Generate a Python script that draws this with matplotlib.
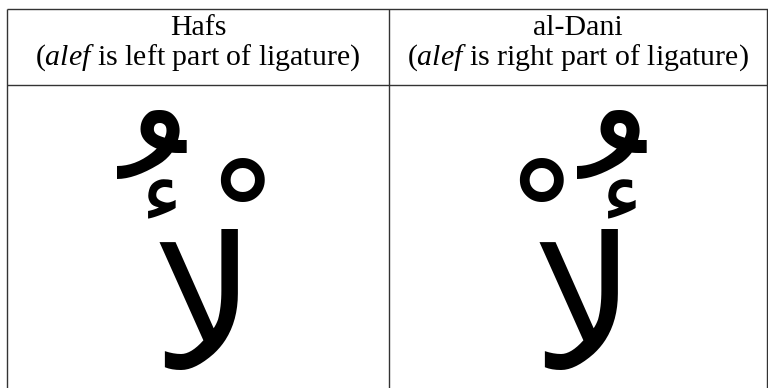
import matplotlib
matplotlib.use("Agg")
import matplotlib.pyplot as plt

# table content
col_titles = ["Hafs", "al-Dani"]
col_notes = ["left", "right"]
ligature = "\uFEFB"      # lam-alef ligature
damma = "\uFE78"
hamza = "\uFE80"
sukun = "\uFE7E"
# Hafs: hamza on the left, sukun on the right; al-Dani: swapped
mark_side = ["left", "right"]

plt.rcParams['mathtext.fontset'] = 'custom'
plt.rcParams['mathtext.rm'] = 'Liberation Serif'
plt.rcParams['mathtext.it'] = 'Liberation Serif:italic'

fig = plt.figure(figsize=(7.68, 3.88), dpi=100)
ax = fig.add_axes([0, 0, 1, 1])
ax.set_xlim(0, 768)
ax.set_ylim(388, 0)
ax.axis('off')

line_kw = dict(color='#333333', lw=1.0, solid_capstyle='butt')
x_left, x_mid, x_right = 7, 389, 767
y_top, y_head = 9, 85
ax.plot([x_left, 768], [y_top, y_top], **line_kw)
ax.plot([x_left, 768], [y_head, y_head], **line_kw)
for x in (x_left, x_mid, x_right):
    ax.plot([x, x], [y_top, 388], **line_kw)

centers = [(x_left + x_mid) / 2, (x_mid + x_right) / 2]
serif = ['Liberation Serif', 'DejaVu Serif']
arab = ['DejaVu Sans']

for i, cx in enumerate(centers):
    ax.text(cx, 35, col_titles[i], ha='center', va='baseline',
            fontsize=21.5, family=serif)
    ax.text(cx, 65, r"($\mathit{alef}$ is " + col_notes[i] + " part of ligature)",
            ha='center', va='baseline', fontsize=21.5, family=serif)

    # ligature
    ax.text(cx + 6, 368, ligature, ha='center', va='baseline',
            fontsize=132, family=arab)
    if mark_side[i] == 'left':
        hx, dx, sx = cx - 36, cx - 46, cx + 44
    else:
        hx, dx, sx = cx + 44, cx + 34, cx - 37
    ax.text(dx, 374, damma, ha='center', va='bottom',
            fontsize=176, family=arab)
    ax.text(hx, 241, hamza, ha='center', va='bottom',
            fontsize=64, family=arab)
    ax.text(sx, 336, sukun, ha='center', va='bottom',
            fontsize=118, family=arab)

fig.savefig("out.png", dpi=100)
